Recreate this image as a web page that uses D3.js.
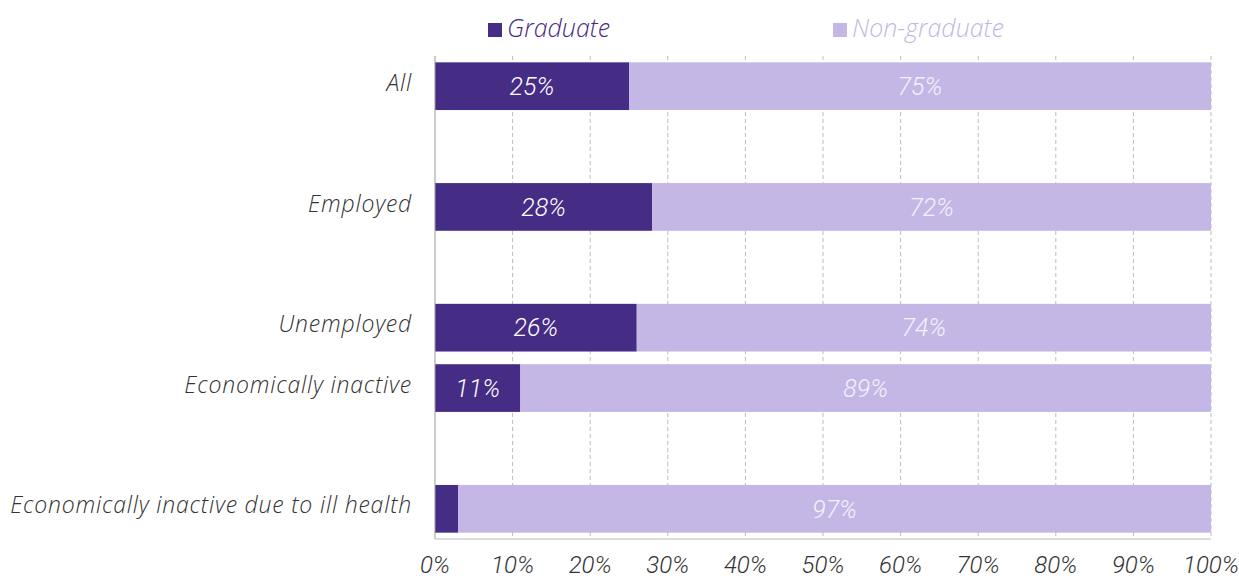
<!DOCTYPE html>
<html>
<head>
<meta charset="utf-8">
<script src="https://cdn.jsdelivr.net/npm/d3@7"></script>
<style>
  body { margin: 0; background: #fff; }
  text { font-family: "Open Sans", Roboto, sans-serif; font-style: italic; font-weight: 300; }
  text.num { font-family: Roboto, "Open Sans", sans-serif; }
</style>
</head>
<body>
<div id="chart"></div>
<script>
// Data
var categories = ["All", "Employed", "Unemployed", "Economically inactive", "Economically inactive due to ill health"];
var rowSlots = [0, 2, 4, 5, 7];   // the chart leaves empty rows between some groups
var graduate = [25, 28, 26, 11, 3];
var nonGraduate = [75, 72, 74, 89, 97];
var xTicks = [0, 10, 20, 30, 40, 50, 60, 70, 80, 90, 100];

var width = 1239, height = 579;
var margin = {top: 56, right: 28, bottom: 40, left: 435};
var darkColor = "#452c85", lightColor = "#c4b7e6";

var svg = d3.select("#chart")
    .append("svg")
    .attr("width", width)
    .attr("height", height);

var x = d3.scaleLinear()
    .domain([0, 100])
    .range([margin.left, width - margin.right]);

var y = d3.scaleBand()
    .domain(d3.range(8))
    .range([margin.top, height - margin.bottom])
    .paddingInner(0.21)
    .paddingOuter(0.105);

// Gridlines
svg.append("g")
    .selectAll("line")
    .data(xTicks.slice(1))
    .enter().append("line")
    .attr("x1", function(d) { return x(d); })
    .attr("x2", function(d) { return x(d); })
    .attr("y1", margin.top)
    .attr("y2", height - margin.bottom)
    .attr("stroke", "#bdbdbd")
    .attr("stroke-dasharray", "4,3");

var rows = categories.map(function(c, i) {
    return {name: c, slot: rowSlots[i], g: graduate[i], n: nonGraduate[i]};
});

// Graduate bars
svg.append("g")
    .selectAll("rect")
    .data(rows)
    .enter().append("rect")
    .attr("x", x(0))
    .attr("y", function(d) { return y(d.slot); })
    .attr("width", function(d) { return x(d.g) - x(0); })
    .attr("height", y.bandwidth())
    .attr("fill", darkColor);

// Non-graduate bars
svg.append("g")
    .selectAll("rect")
    .data(rows)
    .enter().append("rect")
    .attr("x", function(d) { return x(d.g); })
    .attr("y", function(d) { return y(d.slot); })
    .attr("width", function(d) { return x(d.g + d.n) - x(d.g); })
    .attr("height", y.bandwidth())
    .attr("fill", lightColor);

// Value labels
svg.append("g")
    .selectAll("text")
    .data(rows.filter(function(d) { return d.g >= 5; }))
    .enter().append("text")
    .attr("class", "num")
    .attr("x", function(d) { return x(d.g / 2); })
    .attr("y", function(d) { return y(d.slot) + y.bandwidth() / 2; })
    .attr("dy", "0.35em")
    .attr("text-anchor", "middle")
    .attr("fill", "#ffffff")
    .style("font-size", "25px")
    .text(function(d) { return d.g + "%"; });

svg.append("g")
    .selectAll("text")
    .data(rows)
    .enter().append("text")
    .attr("class", "num")
    .attr("x", function(d) { return x(d.g + d.n / 2); })
    .attr("y", function(d) { return y(d.slot) + y.bandwidth() / 2; })
    .attr("dy", "0.35em")
    .attr("text-anchor", "middle")
    .attr("fill", "#f4f1fb")
    .style("font-size", "25px")
    .text(function(d) { return d.n + "%"; });

// Category labels
svg.append("g")
    .selectAll("text")
    .data(rows)
    .enter().append("text")
    .attr("x", margin.left - 23)
    .attr("y", function(d) { return y(d.slot) + y.bandwidth() / 2; })
    .attr("dy", "0.2em")
    .attr("text-anchor", "end")
    .attr("fill", "#333")
    .style("font-size", "23px")
    .style("letter-spacing", "0.8px")
    .text(function(d) { return d.name; });

// Axes lines
svg.append("line")
    .attr("x1", x(0)).attr("x2", x(0))
    .attr("y1", margin.top).attr("y2", height - margin.bottom)
    .attr("stroke", "#999");
svg.append("line")
    .attr("x1", x(0)).attr("x2", x(100))
    .attr("y1", height - margin.bottom).attr("y2", height - margin.bottom)
    .attr("stroke", "#bbb");

// X tick labels
svg.append("g")
    .selectAll("text")
    .data(xTicks)
    .enter().append("text")
    .attr("class", "num")
    .attr("x", function(d) { return x(d); })
    .attr("y", height - 6)
    .attr("text-anchor", "middle")
    .attr("fill", "#333")
    .style("font-size", "24px")
    .text(function(d) { return d + "%"; });

// Legend
var legend = [
    {label: "Graduate", color: darkColor, x: 488},
    {label: "Non-graduate", color: lightColor, x: 833}
];
var lg = svg.append("g").selectAll("g")
    .data(legend)
    .enter().append("g")
    .attr("transform", function(d) { return "translate(" + d.x + ",23)"; });
lg.append("rect")
    .attr("width", 14).attr("height", 14)
    .attr("fill", function(d) { return d.color; });
lg.append("text")
    .attr("x", 19)
    .attr("y", 14)
    .attr("fill", function(d) { return d.color; })
    .style("font-size", "25px")
    .text(function(d) { return d.label; });
</script>
</body>
</html>
